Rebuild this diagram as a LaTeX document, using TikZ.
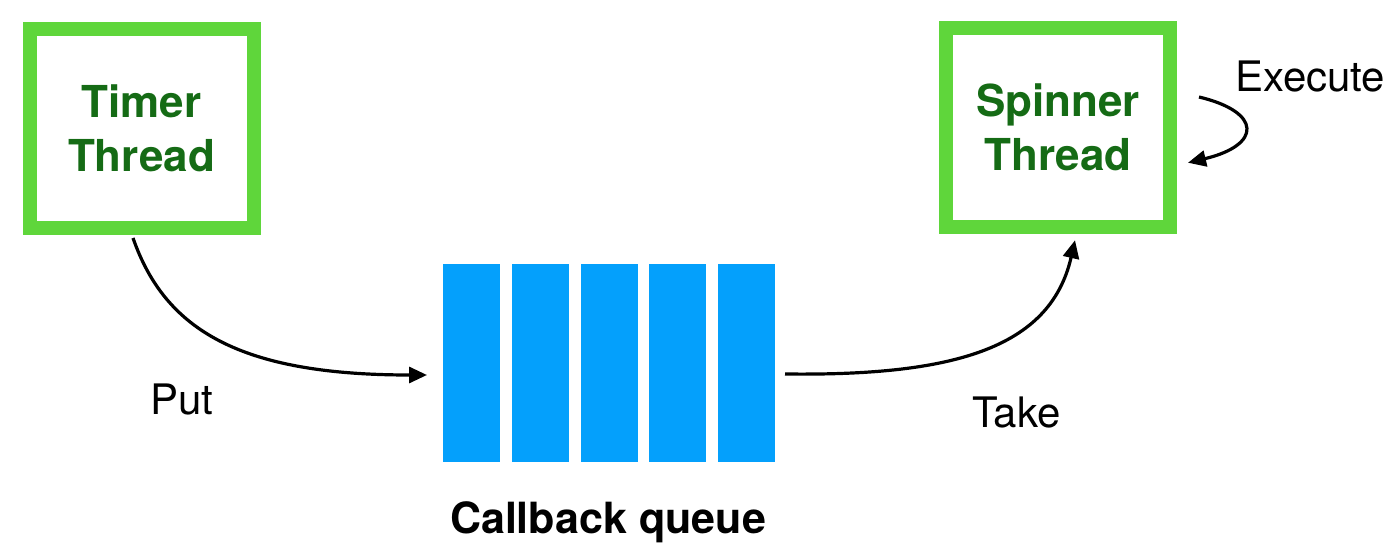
\documentclass[tikz,border=0pt]{standalone}
\usepackage{fontspec}
\setmainfont{TeX Gyre Heros}
\usetikzlibrary{arrows.meta}
\definecolor{boxgreen}{RGB}{95,214,59}
\definecolor{txtgreen}{RGB}{21,107,21}
\definecolor{qblue}{RGB}{4,160,252}
\tikzset{
  thread/.style={draw=boxgreen, line width=14pt, fill=white, minimum width=224pt, minimum height=199pt,
    align=center, text=txtgreen, font=\fontsize{44}{54}\selectfont\bfseries, inner sep=0pt},
  qbar/.style={fill=qblue, draw=none, minimum width=57pt, minimum height=198pt, inner sep=0pt, outer sep=0pt},
  lbl/.style={font=\fontsize{42}{50}\selectfont, inner sep=0pt, anchor=base west},
  arr/.style={line width=3.2pt, -{Triangle[length=18pt,width=16pt]}}
}
\begin{document}
\begin{tikzpicture}[x=1pt,y=-1pt]
\useasboundingbox[fill=white] (0,0) rectangle (1400,556);
\node[thread] (timer) at (141.5,128.5) {Timer\\Thread};
\node[thread] (spinner) at (1058,127.75) {Spinner\\Thread};
\node[qbar] (q1) at (471.5,363) {};
\node[qbar] (q2) at (540.25,363) {};
\node[qbar] (q3) at (609,363) {};
\node[qbar] (q4) at (677.75,363) {};
\node[qbar] (q5) at (746.5,363) {};
\node[font=\fontsize{43}{50}\selectfont\bfseries, inner sep=0pt, anchor=base] (cq) at (608,533) {Callback queue};
\node[lbl] (put) at (150,414) {Put};
\node[lbl] (take) at (972,427) {Take};
\node[lbl] (exec) at (1235,92) {Execute};
\draw[arr] ([xshift=-8.5pt,yshift=-3pt]timer.south) .. controls (165,330) and (240,375) .. ([xshift=-16pt,yshift=-12pt]q1.west);
\draw[arr] ([xshift=10pt,yshift=-11pt]q5.east) .. controls (950,376) and (1050,350) .. ([xshift=17pt,yshift=-6pt]spinner.south);
\coordinate (es) at (1199,97);
\draw[arr] (es) .. controls (1262,112) and (1262,145) .. ([xshift=11pt,yshift=-35pt]spinner.east);
\end{tikzpicture}
\end{document}
